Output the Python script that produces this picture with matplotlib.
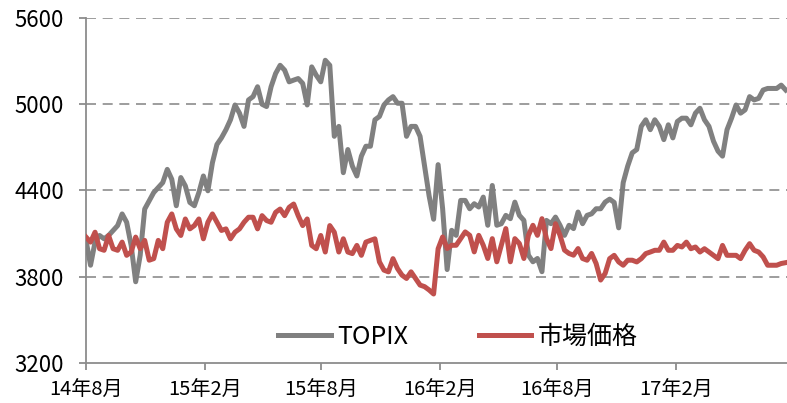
import matplotlib.pyplot as plt
import pandas as pd

plt.rcParams['font.family'] = ['Noto Sans CJK JP', 'DejaVu Sans']

dates = pd.date_range("2014-08-01", periods=156, freq="7D")

topix = [
    4053, 3880, 4041, 4087, 4064, 4087, 4122, 4156, 4237, 4179,
    4018, 3765, 3949, 4271, 4329, 4386, 4421, 4455, 4547, 4478,
    4294, 4490, 4432, 4317, 4294, 4386, 4501, 4398, 4593, 4720,
    4766, 4823, 4892, 4995, 4938, 4846, 5030, 5053, 5122, 5000,
    4984, 5122, 5214, 5271, 5237, 5156, 5168, 5179, 5145, 4995,
    5260, 5202, 5156, 5306, 5271, 4777, 4846, 4524, 4685, 4570,
    4501, 4639, 4708, 4708, 4892, 4915, 4995, 5030, 5053, 5007,
    5007, 4777, 4846, 4846, 4777, 4570, 4363, 4200, 4580,
    4273, 3850, 4123, 4088, 4331, 4331, 4273, 4308, 4285, 4354,
    4158, 4435, 4158, 4169, 4227, 4204, 4319, 4227, 4192, 3950,
    3904, 3927, 3835, 4192, 4169, 4215, 4158, 4088, 4158, 4135,
    4250, 4169, 4227, 4238, 4273, 4273, 4319,
    4340, 4317, 4140, 4455, 4570, 4662, 4685, 4846, 4892, 4823,
    4892, 4846, 4754, 4857, 4766, 4880, 4903, 4903, 4857, 4938,
    4972, 4892, 4846, 4743, 4674, 4639, 4823, 4903, 4995, 4938,
    4961, 5053, 5030, 5041, 5099, 5110, 5110, 5110, 5133, 5099,
]

market = [
    4076, 4041, 4110, 3995, 3984, 4087, 3995, 3984, 4041, 3949,
    3972, 4076, 3995, 4053, 3915, 3926, 4053, 3995, 4179, 4237,
    4133, 4087, 4202, 4133, 4156, 4202, 4064, 4179, 4237, 4179,
    4122, 4133, 4064, 4110, 4133, 4179, 4214, 4214, 4133, 4225,
    4191, 4179, 4248, 4271, 4225, 4283, 4306, 4225, 4156, 4202,
    4018, 3995, 4087, 3972, 4156, 4110, 3972, 4064, 3972, 3961,
    4018, 3949, 4041, 4053, 4064, 3903, 3846, 3834, 3926, 3857,
    3811, 3788, 3834, 3788, 3742, 3731, 3708, 3680, 3995,
    4077, 3996, 4019, 4019, 4065, 4112, 4088, 3973, 4088, 4019,
    3927, 4065, 3904, 4019, 4135, 3904, 4065, 4031, 3927, 4088,
    4158, 4088, 4204, 4065, 3996, 4169, 4088, 3985, 3962, 3950,
    3996, 3927, 3915, 3962, 3892, 3777, 3823,
    3926, 3949, 3903, 3880, 3915, 3915, 3903, 3926, 3961, 3972,
    3984, 3984, 4041, 3984, 3984, 4018, 4007, 4041, 3995, 4007,
    3972, 3995, 3972, 3949, 3926, 4018, 3949, 3949, 3949, 3926,
    3984, 4030, 3984, 3972, 3938, 3880, 3880, 3880, 3892, 3898,
]

tick_dates = pd.to_datetime(["2014-08-01", "2015-02-01", "2015-08-01",
                             "2016-02-01", "2016-08-01", "2017-02-01"])
tick_labels = ["14年8月", "15年2月", "15年8月", "16年2月", "16年8月", "17年2月"]
y_ticks = [3200, 3800, 4400, 5000, 5600]

fig = plt.figure(figsize=(7.87, 4.03), dpi=100)
ax = fig.add_axes([0.1093, 0.0993, 0.8907, 0.856])

ax.plot(dates, topix, color="#808080", lw=3.6, label="TOPIX", zorder=3,
        solid_joinstyle="round")
ax.plot(dates, market, color="#C0504D", lw=3.6, label="市場価格", zorder=4,
        solid_joinstyle="round")

ax.set_xlim(pd.Timestamp("2014-08-01"), pd.Timestamp("2017-07-23"))
ax.set_ylim(3200, 5600)
ax.set_yticks(y_ticks)
ax.set_xticks(tick_dates)
ax.set_xticklabels(tick_labels)

# dashed horizontal gridlines
for v in y_ticks[1:]:
    ax.axhline(v, color="#8c8c8c", lw=1.2, ls=(0, (6, 4)), zorder=1)

for s in ["top", "right"]:
    ax.spines[s].set_visible(False)
ax.spines["left"].set_color("#8c8c8c")
ax.spines["bottom"].set_color("#8c8c8c")
ax.spines["left"].set_linewidth(1.3)
ax.spines["bottom"].set_linewidth(1.3)

ax.tick_params(axis="y", length=5, width=1.3, color="#8c8c8c", pad=11,
               labelsize=16)
ax.tick_params(axis="x", length=5, width=1.3, color="#8c8c8c", pad=7,
               labelsize=14.5)

ax.legend(loc="center", bbox_to_anchor=(0.531, 0.075), ncol=2, frameon=False,
          fontsize=18, handlelength=2.1, handletextpad=0.28,
          columnspacing=2.8)

fig.savefig("out.png", dpi=100)
